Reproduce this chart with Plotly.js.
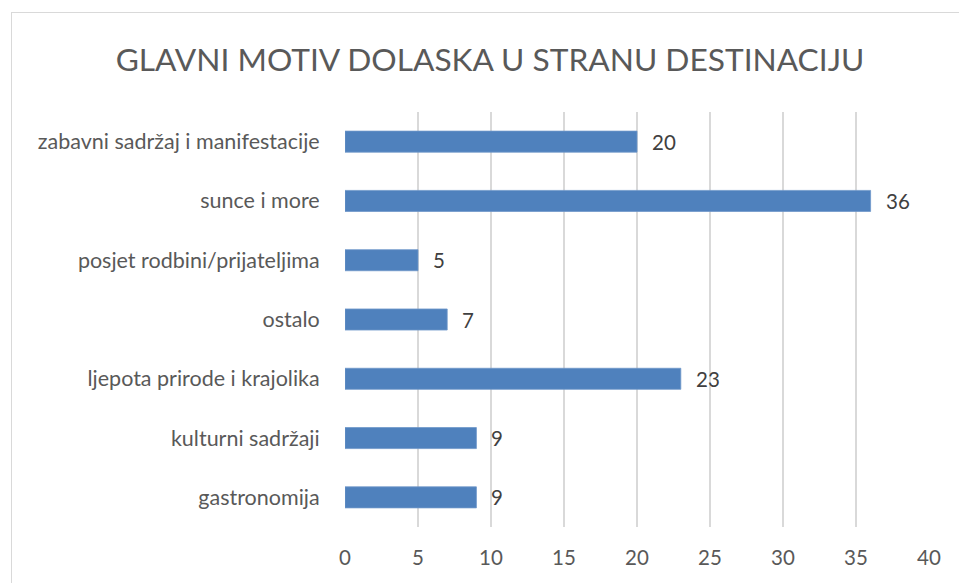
<!DOCTYPE html>
<html>
<head>
<meta charset="utf-8">
<script src="https://cdn.plot.ly/plotly-3.0.1.min.js"></script>
<style>
  html, body { margin: 0; padding: 0; background: #fff; }
  #wrap { position: relative; width: 959px; height: 583px; overflow: hidden; }
  #frame { position: absolute; left: 11px; top: 12px; width: 1000px; height: 700px;
           border-top: 1.5px solid #d9d9d9; border-left: 1.5px solid #d9d9d9; }
  #chart { position: absolute; left: 0; top: 0; width: 959px; height: 583px; }
</style>
</head>
<body>
<div id="wrap">
  <div id="frame"></div>
  <div id="chart"></div>
</div>
<script>
const categories = [
  "gastronomija",
  "kulturni sadržaji",
  "ljepota prirode i krajolika",
  "ostalo",
  "posjet rodbini/prijateljima",
  "sunce i more",
  "zabavni sadržaj i manifestacije"
];
const values = [9, 9, 23, 7, 5, 36, 20];
const xTicks = [0, 5, 10, 15, 20, 25, 30, 35, 40];
const titleText = "GLAVNI MOTIV DOLASKA U STRANU DESTINACIJU";

const FONT = "Lato, 'Open Sans', sans-serif";
const TXT = "#595959";

const trace = {
  type: "bar",
  orientation: "h",
  y: categories,
  x: values,
  marker: { color: "#4f81bd", line: { color: "#6f97c9", width: 0.8 } },
  hoverinfo: "none"
};

const annotations = values.map((v, i) => ({
  x: v, y: categories[i], xref: "x", yref: "y",
  text: String(v), showarrow: false, xanchor: "left", yanchor: "middle",
  xshift: 13, font: { family: FONT, size: 20.5, color: "#404040" }
}));

const layout = {
  width: 959, height: 583,
  paper_bgcolor: "rgba(0,0,0,0)", plot_bgcolor: "rgba(0,0,0,0)",
  margin: { l: 345, r: 30, t: 112, b: 56, pad: 0 },
  showlegend: false,
  bargap: 0.645,
  title: {
    text: titleText, xref: "container", yref: "container",
    x: 490 / 959, xanchor: "center", y: 1 - 60 / 583, yanchor: "middle",
    font: { family: FONT, size: 31.7, color: TXT }
  },
  xaxis: {
    range: [0, 40], tickvals: xTicks, ticktext: xTicks.map(String),
    showgrid: true, gridcolor: "#d9d9d9", gridwidth: 1.5,
    zeroline: false, showline: false,
    ticks: "outside", ticklen: 12, tickcolor: "rgba(0,0,0,0)",
    tickfont: { family: FONT, size: 20.5, color: TXT }, fixedrange: true
  },
  yaxis: {
    type: "category", categoryorder: "array", categoryarray: categories,
    showgrid: false, zeroline: false, showline: false,
    ticks: "outside", ticklen: 20, tickcolor: "rgba(0,0,0,0)",
    tickfont: { family: FONT, size: 21.5, color: TXT }, fixedrange: true
  },
  annotations: annotations
};

Plotly.newPlot("chart", [trace], layout, { displayModeBar: false, staticPlot: true });
</script>
</body>
</html>
